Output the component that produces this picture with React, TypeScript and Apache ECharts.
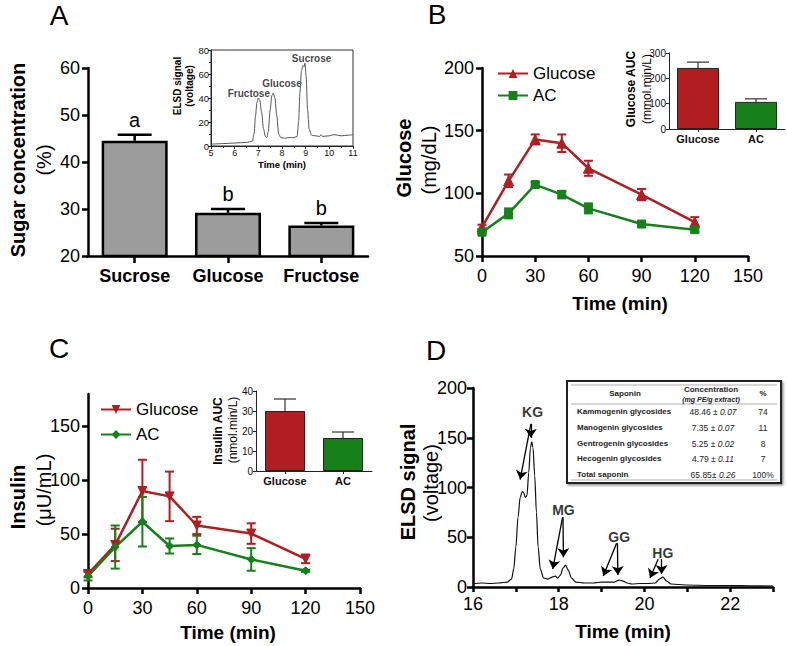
import React, { useEffect, useRef } from 'react';
import * as echarts from 'echarts';

const FONT = '"Liberation Sans", Arial, Helvetica, sans-serif';
const RED = '#B01E22';
const GREEN = '#16811A';
const BARGRAY = '#9c9c9c';

// ---- Panel A : sugar concentration ----
const sugarCats = ['Sucrose', 'Glucose', 'Fructose'];
const sugarValues = [44.5, 29.2, 26.5];
const sugarErrors = [1.3, 0.8, 0.5];
const sugarLetters = ['a', 'b', 'b'];

// Panel A inset : ELSD chromatogram of sugars
const sugarTime = [5.0, 5.5, 6.0, 6.5, 6.75, 6.82, 6.88, 6.94, 7.0, 7.06, 7.14, 7.22, 7.3, 7.36, 7.42, 7.5, 7.57, 7.63, 7.7, 7.78, 7.86, 7.95, 8.1, 8.3, 8.5, 8.64, 8.7, 8.76, 8.82, 8.88, 8.93, 8.97, 9.02, 9.08, 9.15, 9.25, 9.4, 9.6, 9.65, 9.7, 10.0, 10.2, 10.5, 10.8, 11.0];
const sugarSignal = [1.5, 2, 2.5, 3, 4, 10, 25, 36, 40, 38, 28, 14, 8, 7, 12, 30, 42, 44, 40, 25, 10, 7, 6.5, 7, 7, 8, 20, 45, 62, 67, 66, 69, 58, 30, 14, 9, 8.5, 8, 9.5, 8, 8.5, 9.5, 8.5, 9, 9.5];
const sugarPeakNames = ['Fructose', 'Glucose', 'Sucrose'];
const sugarPeakX = [6.6, 8.0, 9.25];
const sugarPeakY = [44, 52, 73];

// ---- Panel B : glucose ----
const times = [0, 15, 30, 45, 60, 90, 120];
const glucoseGlu = [73, 110, 143, 140, 120, 99, 77];
const glucoseGluErr = [2, 5, 4, 7, 6, 4.5, 4];
const glucoseAC = [69, 84, 107, 99, 88, 75.5, 71];
const glucoseACErr = [1.5, 4, 2, 3, 4, 2, 2];
const aucCats = ['Glucose', 'AC'];
const glucoseAUC = [241, 107];
const glucoseAUCErr = [23, 12];

// ---- Panel C : insulin ----
const insulinGlu = [13, 40, 90, 85, 58, 50.5, 27];
const insulinGluErr = [3, 15, 29, 23, 8, 9.5, 4];
const insulinAC = [11, 38, 61.5, 39, 40, 26.5, 16];
const insulinACErr = [4, 20, 23, 7, 8.5, 10.5, 1];
const insulinAUC = [30, 16.5];
const insulinAUCErr = [6, 3];

// ---- Panel D : saponin chromatogram ----
const saponinTime = [16.0, 16.2, 16.4, 16.6, 16.8, 16.9, 16.95, 17.0, 17.05, 17.1, 17.15, 17.18, 17.22, 17.26, 17.3, 17.34, 17.37, 17.4, 17.44, 17.48, 17.52, 17.57, 17.65, 17.75, 17.85, 17.92, 17.98, 18.04, 18.1, 18.16, 18.22, 18.3, 18.4, 18.6, 18.8, 19.0, 19.2, 19.3, 19.41, 19.5, 19.6, 19.7, 19.9, 20.1, 20.25, 20.35, 20.43, 20.52, 20.62, 20.8, 21.0, 21.5, 22.0, 22.5, 23.0];
const saponinSignal = [3, 4, 3.5, 4, 5, 8, 18, 40, 70, 90, 96, 95, 90, 92, 115, 140, 146, 140, 112, 75, 40, 18, 9, 8, 10, 11, 9, 12, 19, 22, 17, 9, 5, 4, 4, 5, 5, 5, 7, 6, 4, 3, 3.5, 3.5, 4, 8, 10, 6, 3, 2.5, 2, 1.5, 1.5, 1.2, 1];
const peakNames = ['KG', 'MG', 'GG', 'HG'];
const peakLabelX = [17.39, 18.11, 19.41, 20.43];
const peakLabelY = [176, 77, 50.5, 34.5];
const arrowStartX = [17.35, 17.35, 18.09, 18.1, 19.35, 19.37, 20.32, 20.4];
const arrowStartY = [164, 164, 70, 70, 44, 44, 28, 28];
const arrowEndX = [17.1, 17.35, 17.86, 18.11, 19.04, 19.38, 20.13, 20.4];
const arrowEndY = [108, 150, 18, 30, 11, 12, 9, 13];

// Table
const saponinNames = ['Kammogenin glycosides', 'Manogenin glycosides', 'Gentrogenin glycosides', 'Hecogenin glycosides', 'Total saponin'];
const saponinConc = ['48.46 ± ', '7.35 ± ', '5.25 ± ', '4.79 ± ', '65.85± '];
const saponinSD = ['0.07', '0.07', '0.02', '0.11', '0.26'];
const saponinPct = ['74', '11', '8', '7', '100%'];

// ---------- helpers ----------
function errorSeries(xi: number, yi: number, xs: any[], ys: number[], es: number[], color: string, capW: number, lw: number, upOnly: boolean) {
  return {
    type: 'custom',
    xAxisIndex: xi,
    yAxisIndex: yi,
    silent: true,
    z: 4,
    data: xs.map((x, i) => [x, ys[i], es[i]]),
    renderItem: (params: any, api: any) => {
      const x = api.value(0);
      const y = api.value(1);
      const e = api.value(2);
      const c = api.coord([x, y]);
      const t = api.coord([x, y + e]);
      const b = upOnly ? c : api.coord([x, y - e]);
      const style = { stroke: color, lineWidth: lw, fill: 'none' };
      const children: any[] = [
        { type: 'line', shape: { x1: c[0], y1: b[1], x2: c[0], y2: t[1] }, style },
        { type: 'line', shape: { x1: c[0] - capW / 2, y1: t[1], x2: c[0] + capW / 2, y2: t[1] }, style },
      ];
      if (!upOnly) {
        children.push({ type: 'line', shape: { x1: c[0] - capW / 2, y1: b[1], x2: c[0] + capW / 2, y2: b[1] }, style });
      }
      return { type: 'group', children };
    },
  };
}

function mainValueAxis(gi: number, min: number, max: number, interval: number, margin: number, extra: any = {}) {
  return {
    type: 'value',
    gridIndex: gi,
    min,
    max,
    interval,
    axisLine: { show: true, onZero: false, lineStyle: { color: '#000', width: 2.5 } },
    axisTick: { show: true, length: 6, lineStyle: { color: '#000', width: 2.5 }, ...(extra.tick || {}) },
    axisLabel: { fontSize: 18, color: '#000', fontFamily: FONT, margin, ...(extra.label || {}) },
    splitLine: { show: false },
  };
}

function insetValueAxis(gi: number, min: number, max: number, interval: number, extra: any = {}) {
  return {
    type: 'value',
    gridIndex: gi,
    min,
    max,
    interval,
    axisLine: { show: true, onZero: false, lineStyle: { color: '#222', width: 1 } },
    axisTick: { show: true, length: 3, lineStyle: { color: '#222', width: 1 } },
    axisLabel: { fontSize: 10, color: '#111', fontFamily: FONT, margin: 3, ...(extra.label || {}) },
    splitLine: { show: false },
    ...(extra.minorTick ? { minorTick: extra.minorTick } : {}),
  };
}

function insetCatAxis(gi: number) {
  return {
    type: 'category',
    gridIndex: gi,
    data: aucCats,
    axisLine: { show: true, lineStyle: { color: '#222', width: 1 } },
    axisTick: { show: true, alignWithLabel: true, length: 3, lineStyle: { color: '#222', width: 1 } },
    axisLabel: { interval: 0, fontSize: 11, fontWeight: 'bold', color: '#111', fontFamily: FONT, margin: 4 },
  };
}

function lineSeries(name: string, xi: number, vals: number[], color: string, symbol: string, size: number, rotate = 0) {
  return {
    type: 'line',
    name,
    xAxisIndex: xi,
    yAxisIndex: xi,
    data: times.map((t, i) => [t, vals[i]]),
    symbol,
    symbolSize: size,
    symbolRotate: rotate,
    showAllSymbol: true,
    z: 5,
    lineStyle: { color, width: 2.5 },
    itemStyle: { color, borderColor: color },
  };
}

function vText(text: string, x: number, y: number, size: number, bold: boolean) {
  return {
    type: 'text',
    x,
    y,
    rotation: Math.PI / 2,
    silent: true,
    style: { text, fontSize: size, fontWeight: bold ? 'bold' : 'normal', fontFamily: FONT, fill: '#000', align: 'center', verticalAlign: 'middle' },
  };
}

function hText(text: string, x: number, y: number, size: number, bold: boolean, extra: any = {}) {
  return {
    type: 'text',
    x,
    y,
    silent: true,
    style: { text, fontSize: size, fontWeight: bold ? 'bold' : 'normal', fontFamily: FONT, fill: '#000', align: 'center', verticalAlign: 'middle', ...extra },
  };
}

function buildTable() {
  const children: any[] = [];
  children.push({
    type: 'rect',
    shape: { x: 567, y: 381, width: 214, height: 102 },
    style: { fill: '#fff', stroke: '#222', lineWidth: 2, shadowBlur: 2, shadowOffsetX: 1.5, shadowOffsetY: 1.5, shadowColor: 'rgba(0,0,0,0.45)' },
  });
  children.push({ type: 'line', shape: { x1: 571, y1: 385, x2: 777, y2: 385 }, style: { stroke: '#999', lineWidth: 0.8 } });
  children.push({ type: 'line', shape: { x1: 571, y1: 404, x2: 777, y2: 404 }, style: { stroke: '#999', lineWidth: 0.8 } });
  children.push({ type: 'line', shape: { x1: 571, y1: 480, x2: 777, y2: 480 }, style: { stroke: '#999', lineWidth: 0.8 } });
  children.push(hText('Saponin', 625, 393, 8, true, { fill: '#222' }));
  children.push(hText('Concentration', 711, 389, 8, true, { fill: '#222' }));
  children.push(hText('(mg PE/g extract)', 711, 399, 7, true, { fill: '#222', fontStyle: 'italic' }));
  children.push(hText('%', 763, 393, 8, true, { fill: '#222' }));
  const rowY = [411, 427, 443, 458, 474];
  saponinNames.forEach((n, i) => {
    children.push(hText(n, 577, rowY[i], 8, true, { fill: '#222', align: 'left' }));
    children.push({
      type: 'text',
      x: 713,
      y: rowY[i] + 1,
      silent: true,
      style: {
        text: '{n|' + saponinConc[i] + '}{i|' + saponinSD[i] + '}',
        align: 'center',
        verticalAlign: 'middle',
        fill: '#222',
        rich: {
          n: { fontSize: 8.5, fontFamily: FONT, fill: '#222' },
          i: { fontSize: 8.5, fontFamily: FONT, fontStyle: 'italic', fill: '#222' },
        },
      },
    });
    children.push(hText(saponinPct[i], 763, rowY[i] + 1, 8.5, false, { fill: '#222' }));
  });
  return { type: 'group', x: 0, y: 0, children };
}

function buildOption(): any {
  const grid = [
    { left: 88, top: 68, width: 280, height: 188 },
    { left: 211, top: 50, width: 142, height: 96, show: true, borderColor: '#333', borderWidth: 1, backgroundColor: 'transparent' },
    { left: 482, top: 68, width: 266, height: 188 },
    { left: 669, top: 53, width: 116, height: 76 },
    { left: 88, top: 394, width: 272, height: 194 },
    { left: 256, top: 391, width: 116, height: 80 },
    { left: 473, top: 388, width: 300, height: 199 },
  ].map((g) => ({ outerBoundsMode: 'none', containLabel: false, ...g }));

  const insetMinor = { show: true, splitNumber: 2, length: 2, lineStyle: { color: '#222' } };
  const xAxis = [
    {
      type: 'category',
      gridIndex: 0,
      data: sugarCats,
      axisLine: { show: true, lineStyle: { color: '#000', width: 2.5 } },
      axisTick: { show: true, alignWithLabel: true, length: 7, lineStyle: { color: '#000', width: 2.5 } },
      axisLabel: { interval: 0, fontSize: 18, fontWeight: 'bold', color: '#000', fontFamily: FONT, margin: 11 },
    },
    insetValueAxis(1, 5, 11, 1, { minorTick: insetMinor, label: { fontSize: 9, margin: 2 } }),
    mainValueAxis(2, 0, 150, 30, 11),
    insetCatAxis(3),
    mainValueAxis(4, 0, 150, 30, 11),
    insetCatAxis(5),
    mainValueAxis(6, 16, 23, 1, 8, { tick: { length: 5 }, label: { customValues: [16, 18, 20, 22] } }),
  ];

  const yAxis = [
    mainValueAxis(0, 20, 60, 10, 8),
    insetValueAxis(1, 0, 80, 20, { minorTick: insetMinor, label: { fontSize: 9.5, margin: 2 } }),
    mainValueAxis(2, 50, 200, 50, 8),
    insetValueAxis(3, 0, 300, 100),
    mainValueAxis(4, 0, 180, 50, 8, { tick: { customValues: [0, 50, 100, 150] }, label: { customValues: [0, 50, 100, 150] } }),
    insetValueAxis(5, 0, 40, 10),
    mainValueAxis(6, 0, 200, 50, 6),
  ];

  const series: any[] = [
    // A bars
    {
      type: 'bar',
      xAxisIndex: 0,
      yAxisIndex: 0,
      data: sugarValues,
      barWidth: 66,
      itemStyle: { color: BARGRAY, borderColor: '#000', borderWidth: 2.5 },
      z: 2,
    },
    errorSeries(0, 0, sugarCats, sugarValues, sugarErrors, '#000', 34, 2.5, true),
    {
      type: 'custom',
      xAxisIndex: 0,
      yAxisIndex: 0,
      silent: true,
      data: sugarCats.map((c, i) => [c, sugarValues[i] + sugarErrors[i]]),
      renderItem: (params: any, api: any) => {
        const p = api.coord([api.value(0), api.value(1)]);
        return {
          type: 'text',
          x: p[0],
          y: p[1] - 15,
          style: { text: sugarLetters[params.dataIndex], fontSize: 20, fontFamily: FONT, fill: '#000', align: 'center', verticalAlign: 'middle' },
        };
      },
    },
    // A inset chromatogram
    {
      type: 'line',
      xAxisIndex: 1,
      yAxisIndex: 1,
      data: sugarTime.map((t, i) => [t, sugarSignal[i]]),
      symbol: 'none',
      smooth: 0.3,
      smoothMonotone: 'x',
      lineStyle: { color: '#555', width: 1 },
      silent: true,
    },
    {
      type: 'scatter',
      xAxisIndex: 1,
      yAxisIndex: 1,
      symbolSize: 1,
      itemStyle: { color: 'transparent' },
      silent: true,
      data: sugarPeakNames.map((n, i) => ({ name: n, value: [sugarPeakX[i], sugarPeakY[i]] })),
      label: { show: true, position: 'inside', formatter: '{b}', fontSize: 10, fontWeight: 'bold', color: '#111', fontFamily: FONT },
    },
    // B lines
    lineSeries('Glucose', 2, glucoseGlu, RED, 'triangle', 10),
    lineSeries('AC', 2, glucoseAC, GREEN, 'rect', 8),
    errorSeries(2, 2, times, glucoseGlu, glucoseGluErr, RED, 9, 2, false),
    errorSeries(2, 2, times, glucoseAC, glucoseACErr, GREEN, 9, 2, false),
    // B inset
    {
      type: 'bar',
      xAxisIndex: 3,
      yAxisIndex: 3,
      barWidth: 42,
      data: glucoseAUC.map((v, i) => ({ value: v, itemStyle: { color: i === 0 ? RED : GREEN } })),
      itemStyle: { borderColor: '#222', borderWidth: 1 },
    },
    errorSeries(3, 3, aucCats, glucoseAUC, glucoseAUCErr, '#333', 22, 1.2, true),
    // C lines
    lineSeries('Glucose ', 4, insulinGlu, RED, 'triangle', 9, 180),
    lineSeries('AC ', 4, insulinAC, GREEN, 'diamond', 8),
    errorSeries(4, 4, times, insulinGlu, insulinGluErr, RED, 9, 2, false),
    errorSeries(4, 4, times, insulinAC, insulinACErr, GREEN, 9, 2, false),
    // C inset
    {
      type: 'bar',
      xAxisIndex: 5,
      yAxisIndex: 5,
      barWidth: 40,
      data: insulinAUC.map((v, i) => ({ value: v, itemStyle: { color: i === 0 ? RED : GREEN } })),
      itemStyle: { borderColor: '#222', borderWidth: 1 },
    },
    errorSeries(5, 5, aucCats, insulinAUC, insulinAUCErr, '#333', 22, 1.2, true),
    // D chromatogram
    {
      type: 'line',
      xAxisIndex: 6,
      yAxisIndex: 6,
      data: saponinTime.map((t, i) => [t, saponinSignal[i]]),
      symbol: 'none',
      smooth: 0.3,
      smoothMonotone: 'x',
      lineStyle: { color: '#111', width: 1.2 },
      silent: true,
      markLine: {
        silent: true,
        symbol: ['none', 'arrow'],
        symbolSize: 9,
        label: { show: false },
        itemStyle: { color: '#000' },
        lineStyle: { color: '#000', width: 1.3, type: 'solid' },
        emphasis: { disabled: true },
        data: arrowStartX.map((x, i) => [
          { coord: [x, arrowStartY[i]], symbol: 'none' },
          { coord: [arrowEndX[i], arrowEndY[i]], symbol: 'arrow', symbolSize: 9 },
        ]),
      },
    },
    {
      type: 'scatter',
      xAxisIndex: 6,
      yAxisIndex: 6,
      symbolSize: 1,
      itemStyle: { color: 'transparent' },
      silent: true,
      data: peakNames.map((n, i) => ({ name: n, value: [peakLabelX[i], peakLabelY[i]] })),
      label: { show: true, position: 'inside', formatter: '{b}', fontSize: 14, fontWeight: 'bold', color: '#000', fontFamily: FONT },
    },
  ];

  const legendBase = {
    orient: 'vertical',
    itemWidth: 30,
    itemHeight: 11,
    padding: 0,
    selectedMode: false,
    textStyle: { fontSize: 17, color: '#000', fontFamily: FONT },
  };
  const legend = [
    { ...legendBase, left: 497, top: 65, itemGap: 5, data: ['Glucose', 'AC'] },
    { ...legendBase, left: 100, top: 401, itemGap: 8, data: ['Glucose ', 'AC '] },
  ];

  const graphicEls: any[] = [
    hText('A', 59, 15, 28, false),
    hText('B', 437, 14, 28, false),
    hText('C', 59, 348, 28, false),
    hText('D', 436, 350, 28, false),
    // A titles
    vText('Sugar concentration', 18, 160, 20, true),
    vText('(%)', 44, 160, 20, false),
    vText('ELSD signal', 177, 86, 10, true),
    vText('(voltage)', 189, 86, 10, true),
    hText('Time (min)', 282, 164, 9.5, true),
    // B titles
    vText('Glucose', 404, 158, 20, true),
    vText('(mg/dL)', 429, 160, 20, false),
    hText('Time (min)', 620, 303, 19, true),
    vText('Glucose AUC', 631, 89, 12, true),
    vText('(mmol.min/L)', 647, 89, 12, false),
    // C titles
    vText('Insulin', 18, 497, 20, true),
    vText('(μU/mL)', 44, 490, 20, false),
    hText('Time (min)', 228, 632, 19, true),
    vText('Insulin AUC', 218, 431, 12, true),
    vText('(nmol.min/L)', 233, 430, 12, false),
    // D titles
    vText('ELSD signal', 408, 482, 20, true),
    vText('(voltage)', 431, 483, 20, false),
    hText('Time (min)', 623, 631, 19, true),
    buildTable(),
  ];

  return {
    animation: false,
    backgroundColor: '#fff',
    textStyle: { fontFamily: FONT },
    grid,
    xAxis,
    yAxis,
    legend,
    series,
    graphic: { elements: graphicEls },
  };
}

export default function App() {
  const ref = useRef<HTMLDivElement>(null);
  useEffect(() => {
    if (!ref.current) return;
    const chart = echarts.init(ref.current, null, { renderer: 'svg' });
    chart.setOption(buildOption());
    return () => chart.dispose();
  }, []);
  return (
    <div
      ref={ref}
      style={{ position: 'absolute', left: 0, top: 0, width: 787, height: 646, background: '#fff' }}
    />
  );
}
